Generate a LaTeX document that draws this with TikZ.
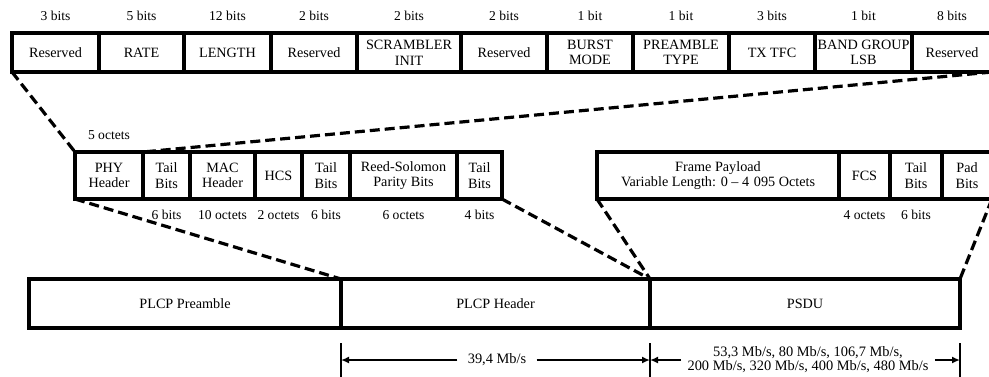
\documentclass[tikz,border=0pt]{standalone}
\usepackage{fontspec}
\setmainfont{Liberation Serif}
\usepackage{tikz}
\usetikzlibrary{arrows.meta,positioning}
\tikzstyle{field}=[rectangle,draw,line width=1.8pt,inner sep=0pt,outer sep=0pt,
                  align=center,font=\fontsize{7.1}{7.8}\selectfont]
\tikzstyle{topfield}=[field,minimum height=19.5pt]
\tikzstyle{midfield}=[field,minimum height=23.5pt]
\tikzstyle{lowfield}=[field,minimum height=24.5pt]
\tikzstyle{sizelabel}=[inner sep=1pt,font=\fontsize{6.8}{7}\selectfont]
\tikzstyle{zoomline}=[dash pattern=on 5pt off 2.5pt,line width=1.6pt]
\tikzstyle{ratelabel}=[align=center,font=\fontsize{7.2}{7}\selectfont]
\tikzstyle{ratearrow}=[-{Latex[length=4pt,width=3.5pt]},line width=1.4pt]
\tikzstyle{ratetick}=[line width=1.4pt]

\begin{document}
\begin{tikzpicture}[x=0.5pt,y=-0.5pt,node distance=0pt]
      \useasboundingbox (0,0) rectangle (989,376);

      % PHY header fields
      \node[topfield,minimum width=43.5pt,anchor=north west] (res1) at (12,33) {Reserved};
      \node[topfield,minimum width=42.5pt,right=of res1] (rate) {RATE};
      \node[topfield,minimum width=43.5pt,right=of rate] (len) {LENGTH};
      \node[topfield,minimum width=43pt,right=of len] (res2) {Reserved};
      \node[topfield,minimum width=52pt,right=of res2] (scr) {SCRAMBLER\\INIT};
      \node[topfield,minimum width=43pt,right=of scr] (res3) {Reserved};
      \node[topfield,minimum width=43pt,right=of res3] (burst) {BURST\\MODE};
      \node[topfield,minimum width=48pt,right=of burst] (ptype) {PREAMBLE\\TYPE};
      \node[topfield,minimum width=43pt,right=of ptype] (tfc) {TX TFC};
      \node[topfield,minimum width=48.5pt,right=of tfc] (bgl) {BAND GROUP\\LSB};
      \node[topfield,minimum width=40pt,right=of bgl] (res4) {Reserved};

      \node[sizelabel,above=5pt of res1] {3 bits};
      \node[sizelabel,above=5pt of rate] {5 bits};
      \node[sizelabel,above=5pt of len] {12 bits};
      \node[sizelabel,above=5pt of res2] {2 bits};
      \node[sizelabel,above=5pt of scr] {2 bits};
      \node[sizelabel,above=5pt of res3] {2 bits};
      \node[sizelabel,above=5pt of burst] {1 bit};
      \node[sizelabel,above=5pt of ptype] {1 bit};
      \node[sizelabel,above=5pt of tfc] {3 bits};
      \node[sizelabel,above=5pt of bgl] {1 bit};
      \node[sizelabel,above=5pt of res4] {8 bits};

      % PLCP header fields
      \node[midfield,minimum width=34pt,anchor=north west] (phy) at (75,152) {PHY\\Header};
      \node[midfield,minimum width=23.5pt,right=of phy] (tail1) {Tail\\Bits};
      \node[midfield,minimum width=32.5pt,right=of tail1] (mac) {MAC\\Header};
      \node[midfield,minimum width=23.5pt,right=of mac] (hcs) {HCS};
      \node[midfield,minimum width=24pt,right=of hcs] (tail2) {Tail\\Bits};
      \node[midfield,minimum width=53.5pt,right=of tail2] (rs) {Reed-Solomon\\Parity Bits};
      \node[midfield,minimum width=22.5pt,right=of rs] (tail3) {Tail\\Bits};

      \node[sizelabel,above=5pt of phy] {5 octets};
      \node[sizelabel,below=4.5pt of tail1] {6 bits};
      \node[sizelabel,below=4.5pt of mac] {10 octets};
      \node[sizelabel,below=4.5pt of hcs] {2 octets};
      \node[sizelabel,below=4.5pt of tail2] {6 bits};
      \node[sizelabel,below=4.5pt of rs] {6 octets};
      \node[sizelabel,below=4.5pt of tail3] {4 bits};

      % PSDU fields
      \node[midfield,minimum width=121pt,anchor=north west] (pay) at (597,152)
           {Frame Payload\\Variable Length: 0 -- 4\,\,095 Octets};
      \node[midfield,minimum width=25.5pt,right=of pay] (fcs) {FCS};
      \node[midfield,minimum width=26pt,right=of fcs] (tail4) {Tail\\Bits};
      \node[midfield,minimum width=25pt,right=of tail4] (pad) {Pad\\Bits};

      \node[sizelabel,below=4.5pt of fcs] {4 octets};
      \node[sizelabel,below=4.5pt of tail4] {6 bits};

      % PPDU
      \node[lowfield,minimum width=156pt,anchor=north west] (pre) at (29,279) {PLCP Preamble};
      \node[lowfield,minimum width=154.5pt,right=of pre] (hdr) {PLCP Header};
      \node[lowfield,minimum width=155pt,right=of hdr] (psdu) {PSDU};

      % expansion lines
      \draw[zoomline] (res1.south west) -- (phy.north west);
      \draw[zoomline] (res4.south east) -- (phy.north east);
      \draw[zoomline] (phy.south west) -- (hdr.north west);
      \draw[zoomline] (tail3.south east) -- (hdr.north east);
      \draw[zoomline] (pay.south west) -- (psdu.north west);
      \draw[zoomline] (pad.south east) -- (psdu.north east);

      % data rates
      \draw[ratetick] (hdr.south west) ++(0,15) -- ++(0,40);
      \draw[ratetick] (hdr.south east) ++(0,15) -- ++(0,40);
      \draw[ratetick] (psdu.south east) ++(0,15) -- ++(0,40);

      \node[ratelabel,inner sep=5pt] (hrate) at (497,360) {39,4 Mb/s};
      \node[ratelabel,inner sep=3pt] (prate) at (808,360)
           {53,3 Mb/s, 80 Mb/s, 106,7 Mb/s,\\200 Mb/s, 320 Mb/s, 400 Mb/s, 480 Mb/s};
      \coordinate (h1) at (hdr.south west |- hrate);
      \coordinate (h2) at (hdr.south east |- hrate);
      \coordinate (p2) at (psdu.south east |- prate);

      \draw[ratearrow] (hrate.west) -- (h1);
      \draw[ratearrow] (hrate.east) -- (h2);
      \draw[ratearrow] (prate.west) -- (h2);
      \draw[ratearrow] (prate.east) -- (p2);
    \end{tikzpicture}
\end{document}
